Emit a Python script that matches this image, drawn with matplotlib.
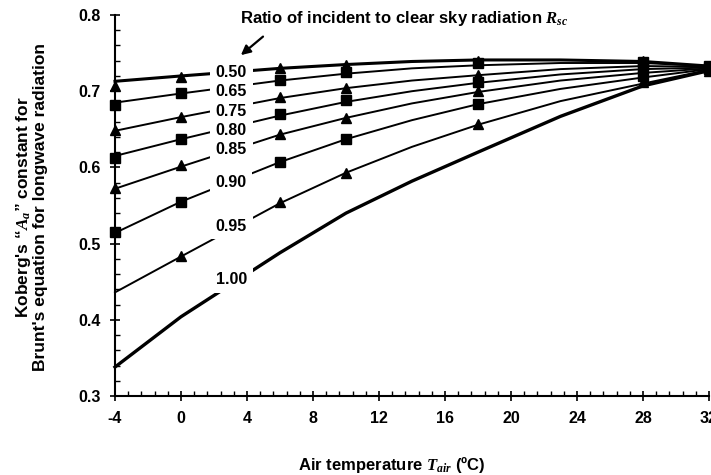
import matplotlib
matplotlib.use("Agg")
import matplotlib.pyplot as plt
from matplotlib.ticker import MultipleLocator

plt.rcParams['font.family'] = ['Liberation Sans', 'DejaVu Sans']
plt.rcParams['font.weight'] = 'bold'
plt.rcParams['mathtext.fontset'] = 'custom'
plt.rcParams['mathtext.it'] = 'Liberation Serif:bold:italic'
plt.rcParams['mathtext.rm'] = 'Liberation Serif:bold'

# Ratio labels
ratios = ["0.50", "0.65", "0.75", "0.80", "0.85", "0.90", "0.95", "1.00"]

# Fitted curve values
t_curve = [-4, 0, 6, 10, 14, 18, 23, 28, 32]
curve_050 = [0.713, 0.720, 0.730, 0.735, 0.739, 0.741, 0.741, 0.739, 0.733]
curve_065 = [0.685, 0.697, 0.714, 0.723, 0.730, 0.734, 0.737, 0.737, 0.733]
curve_075 = [0.648, 0.666, 0.691, 0.704, 0.714, 0.721, 0.729, 0.733, 0.732]
curve_080 = [0.615, 0.637, 0.668, 0.686, 0.700, 0.711, 0.722, 0.729, 0.731]
curve_085 = [0.572, 0.601, 0.643, 0.665, 0.684, 0.699, 0.714, 0.724, 0.730]
curve_090 = [0.514, 0.555, 0.607, 0.637, 0.662, 0.683, 0.703, 0.718, 0.729]
curve_095 = [0.436, 0.483, 0.553, 0.593, 0.627, 0.656, 0.687, 0.710, 0.728]
curve_100 = [0.338, 0.404, 0.488, 0.540, 0.582, 0.620, 0.667, 0.707, 0.727]
curves = [curve_050, curve_065, curve_075, curve_080, curve_085, curve_090, curve_095, curve_100]

# Marker (data point) values
t_mark = [-4, 0, 6, 10, 18, 28, 32]
mark_050 = [0.707, 0.719, 0.730, 0.734, 0.740, 0.740, 0.733]
mark_065 = [0.682, 0.698, 0.715, 0.725, 0.737, 0.738, 0.733]
mark_075 = [0.649, 0.666, 0.692, 0.704, 0.721, 0.735, 0.732]
mark_080 = [0.612, 0.637, 0.670, 0.688, 0.712, 0.731, 0.731]
mark_085 = [0.573, 0.603, 0.644, 0.665, 0.700, 0.727, 0.730]
mark_090 = [0.515, 0.555, 0.607, 0.637, 0.683, 0.720, 0.729]
t_mark_095 = [0, 6, 10, 18, 28, 32]
mark_095 = [0.484, 0.555, 0.593, 0.657, 0.712, 0.727]

# label y-positions (value units) for ratio labels
label_y = [0.725, 0.699, 0.674, 0.649, 0.623, 0.580, 0.523, 0.453]

# tick labels
x_ticks = [-4, 0, 4, 8, 12, 16, 20, 24, 28, 32]
x_ticklabels = ['-4', '0', '4', '8', '12', '16', '20', '24', '28', '32']
y_ticks = [0.3, 0.4, 0.5, 0.6, 0.7, 0.8]
y_ticklabels = ['0.3', '0.4', '0.5', '0.6', '0.7', '0.8']

fig = plt.figure(figsize=(7.11, 4.75), dpi=100)
ax = fig.add_axes([115/711, 1-396/475, (709-115)/711, (396-15)/475])

widths = [2.2, 1.4, 1.4, 1.4, 1.4, 1.4, 1.4, 2.4]
for c, w in zip(curves, widths):
    ax.plot(t_curve, c, color='black', lw=w, zorder=2, clip_on=False)

tri = dict(marker='^', ms=7, color='black', ls='none', zorder=3, clip_on=False)
sq = dict(marker='s', ms=7, color='black', ls='none', zorder=3, clip_on=False)
ax.plot(t_mark, mark_050, **tri)
ax.plot(t_mark, mark_065, **sq)
ax.plot(t_mark, mark_075, **tri)
ax.plot(t_mark, mark_080, **sq)
ax.plot(t_mark, mark_085, **tri)
ax.plot(t_mark, mark_090, **sq)
ax.plot(t_mark_095, mark_095, **tri)

for lab, y in zip(ratios, label_y):
    ax.text(3.05, y, lab, ha='center', va='center', fontsize=11.5, fontweight='bold',
            zorder=5, bbox=dict(boxstyle='square,pad=0.35', fc='white', ec='none'))

ax.annotate("", xy=(3.5, 0.745), xytext=(5.1, 0.774),
            arrowprops=dict(arrowstyle='-|>', color='black', lw=1.6, mutation_scale=14))
ax.text(13.5, 0.795, r"Ratio of incident to clear sky radiation $R_{sc}$",
        ha='center', va='center', fontsize=12, fontweight='bold')

ax.set_xlim(-4, 32)
ax.set_ylim(0.3, 0.8)
ax.xaxis.set_minor_locator(MultipleLocator(0.8))
ax.yaxis.set_minor_locator(MultipleLocator(0.02))
ax.set_xticks(x_ticks)
ax.set_xticklabels(x_ticklabels, fontsize=11.5, fontweight='bold')
ax.set_yticks(y_ticks)
ax.set_yticklabels(y_ticklabels, fontsize=11.5, fontweight='bold')
ax.tick_params(which='major', direction='inout', length=7, width=1.2, pad=7)
ax.tick_params(which='minor', direction='in', length=3.5, width=1.0)

ax.spines['top'].set_visible(False)
ax.spines['right'].set_visible(False)
ax.spines['left'].set_linewidth(1.5)
ax.spines['bottom'].set_linewidth(1.5)

fig.text(392/711, 1-465/475, r"Air temperature $T_{air}$ (ºC)", ha='center', va='center',
         fontsize=12, fontweight='bold')
fig.text(31/711, 1-207/475, "Koberg's \u201c$A_a$\u201d constant for\nBrunt's equation for longwave radiation",
         ha='center', va='center', rotation=90, fontsize=12.5, fontweight='bold', linespacing=1.05)

fig.savefig("out.png", dpi=100)
